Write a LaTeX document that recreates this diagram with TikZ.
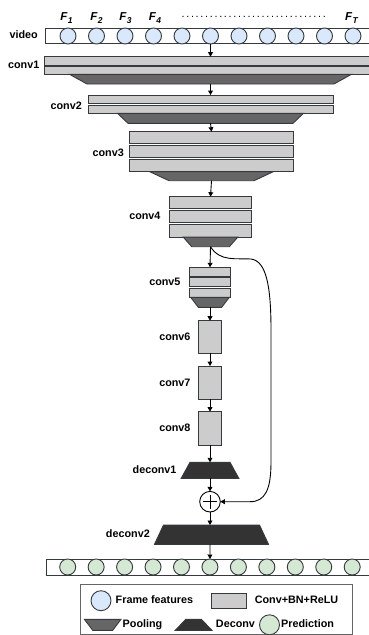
\documentclass[tikz,border=0pt]{standalone}
\usepackage{fontspec}
\setmainfont{Liberation Sans}
\usetikzlibrary{arrows.meta}
\definecolor{blueF}{HTML}{DAE8FC}
\definecolor{greenF}{HTML}{D5E8D4}
\definecolor{grayF}{HTML}{CCCCCC}
\definecolor{poolF}{HTML}{666666}
\definecolor{deconvF}{HTML}{333333}
\definecolor{strokeC}{HTML}{36393D}
\newcommand{\TrapShape}[7]{%
  \draw[trapz, fill=#7] ({#2-#5},#3) -- ({#2+#5},#3) -- ({#2+#6},#4) -- ({#2-#6},#4) -- cycle;
  \coordinate (#1-n) at (#2,#3);
  \coordinate (#1-s) at (#2,#4);}
\newcommand{\FrameLab}[1]{F\kern0.3pt\raisebox{-3pt}{\fontsize{8.5}{9}\selectfont #1}}
\begin{document}
\begin{tikzpicture}[x=1pt,y=-1pt,
  lbl/.style={font=\fontsize{10.8}{12}\selectfont\bfseries, anchor=mid east, inner sep=0},
  lt/.style={font=\fontsize{10.8}{12}\selectfont\bfseries, inner sep=0},
  flab/.style={font=\fontsize{11.5}{12}\selectfont\bfseries\itshape, inner sep=0, anchor=base},
  bar/.style={draw=strokeC, fill=grayF, line width=0.9pt, inner sep=0, outer sep=0},
  trapz/.style={draw=strokeC, line width=0.9pt},
  strip/.style={draw=strokeC, fill=white, line width=0.9pt, inner sep=0, outer sep=0},
  fcirc/.style={circle, draw=strokeC, fill=blueF, line width=0.9pt, minimum size=16pt, inner sep=0, outer sep=0},
  pcirc/.style={circle, draw=strokeC, fill=greenF, line width=0.9pt, minimum size=16pt, inner sep=0, outer sep=0},
  arr/.style={-{Triangle[length=4.5pt,width=4.8pt]}, line width=0.9pt, draw=black}]
\useasboundingbox (0,0) rectangle (368,635);

% ---------- input video ----------
\node[strip, minimum width=331pt, minimum height=15.2pt] (video) at (210.5,35.9) {};
\foreach \i in {1,...,11} {
  \node[fcirc] (v\i) at ({68+28.5*(\i-1)},36) {};
}
\node[lbl] (videol) at (38,36) {video};
\node[flab] (f1) at (66.5,20) {\FrameLab{1}};
\node[flab] (f2) at (96.5,20) {\FrameLab{2}};
\node[flab] (f3) at (125.5,20) {\FrameLab{3}};
\node[flab] (f4) at (155,20) {\FrameLab{4}};
\node[flab] (ft) at (351.5,20) {\FrameLab{T}};
\node[inner sep=0, anchor=base west, font=\fontsize{10.8}{12}\selectfont] (dots) at (180.5,17.6)
  {\makebox[146pt][l]{\xleaders\hbox to 4.6pt{\hss.\hss}\hfill}};

% ---------- conv1 ----------
\node[bar, minimum width=333pt, minimum height=8.6pt] (c1a) at (210.5,61) {};
\node[bar, minimum width=333pt, minimum height=8.3pt] (c1b) at (210.5,70.2) {};
\TrapShape{p1}{210.5}{74.3}{84}{141}{123.5}{poolF}
\node[lbl] (c1l) at (39.5,66) {conv1};

% ---------- conv2 ----------
\node[bar, minimum width=245pt, minimum height=8.3pt] (c2a) at (210.5,99.2) {};
\node[bar, minimum width=245pt, minimum height=8.3pt] (c2b) at (210.5,109.2) {};
\TrapShape{p2}{210.5}{113.3}{123.3}{93}{82.5}{poolF}
\node[lbl] (c2l) at (82,107) {conv2};

% ---------- conv3 ----------
\node[bar, minimum width=164pt, minimum height=11.8pt] (c3a) at (211.5,137.6) {};
\node[bar, minimum width=164pt, minimum height=11.8pt] (c3b) at (211.5,151.6) {};
\node[bar, minimum width=164pt, minimum height=12pt] (c3c) at (211.5,165.6) {};
\TrapShape{p3}{211.5}{171.6}{180.7}{62}{42.5}{poolF}
\node[lbl] (c3l) at (124,154) {conv3};

% ---------- conv4 ----------
\node[bar, minimum width=82.4pt, minimum height=12.2pt] (c4a) at (210.5,202.8) {};
\node[bar, minimum width=82.4pt, minimum height=11.8pt] (c4b) at (210.5,216.6) {};
\node[bar, minimum width=82.4pt, minimum height=12.6pt] (c4c) at (210.5,230.8) {};
\TrapShape{p4}{210.5}{237.1}{246.7}{27.3}{18.8}{poolF}
\node[lbl] (c4l) at (160.7,216.7) {conv4};

% ---------- conv5 ----------
\node[bar, minimum width=41.4pt, minimum height=9pt] (c5a) at (210,271.8) {};
\node[bar, minimum width=41.4pt, minimum height=9.2pt] (c5b) at (210,282.1) {};
\node[bar, minimum width=41.4pt, minimum height=9.2pt] (c5c) at (210,292.7) {};
\TrapShape{p5}{210}{297.3}{307.3}{19.3}{11.7}{poolF}
\node[lbl] (c5l) at (180.7,283) {conv5};

% ---------- conv6-8 ----------
\node[bar, minimum width=23.4pt, minimum height=32.6pt] (c6) at (210,337) {};
\node[bar, minimum width=23.4pt, minimum height=33.3pt] (c7) at (210,382.7) {};
\node[bar, minimum width=23.4pt, minimum height=33.3pt] (c8) at (210,428.3) {};
\node[lbl] (c6l) at (190.7,338) {conv6};
\node[lbl] (c7l) at (190.7,384) {conv7};
\node[lbl] (c8l) at (190.7,429) {conv8};

% ---------- deconvs ----------
\TrapShape{d1}{210}{462.3}{478.3}{20}{28.8}{deconvF}
\node[lbl] (d1l) at (176.7,471) {deconv1};
\node[circle, draw=black, fill=white, line width=0.9pt, minimum size=20.6pt, inner sep=0, outer sep=0] (plus) at (210,501.7) {};
\draw[line width=0.8pt] ([xshift=-7pt]plus.center) -- ([xshift=7pt]plus.center);
\draw[line width=0.8pt] ([yshift=-7pt]plus.center) -- ([yshift=7pt]plus.center);
\TrapShape{d2}{211.5}{525}{544.3}{48}{57}{deconvF}
\node[lbl] (d2l) at (150,535) {deconv2};

% ---------- output ----------
\node[strip, minimum width=329pt, minimum height=16pt] (out) at (210.5,567) {};
\foreach \i in {1,...,11} {
  \node[pcirc] (o\i) at ({67.7+28.45*(\i-1)},567) {};
}

% ---------- arrows ----------
\draw[arr] (v6.south) -- (c1a.north);
\draw[arr] (p1-s) -- (c2a.north);
\draw[arr] (p2-s) -- (c3a.north);
\draw[arr] (p3-s) -- (c4a.north);
\draw[arr] (p4-s) -- (c5a.north);
\draw[arr] (p5-s) -- (c6.north);
\draw[arr] (c6.south) -- (c7.north);
\draw[arr] (c7.south) -- (c8.north);
\draw[arr] (c8.south) -- (d1-n);
\draw[arr] (d1-s) -- (plus.north);
\draw[arr] (plus.south) -- (d2-n -| plus.south);
\draw[arr] (d2-s -| plus.south) -- (o6.north);
\draw[arr] (p4-s) .. controls (220,262) and (236,258) .. (251,259)
  .. controls (266,261) and (271,285) .. (271,330) -- (271,462)
  .. controls (271,490) and (265,501.7) .. (250,501.7) -- (plus.east);

% ---------- legend ----------
\node[draw=poolF, line width=0.9pt, fill=white, minimum width=272pt, minimum height=49.5pt, inner sep=0, outer sep=0] (legend) at (216,609.3) {};
\node[fcirc, minimum size=20pt] (lg1) at (101,600.7) {};
\node[lt, anchor=mid west] (lg1t) at (115.5,600.7) {Frame features};
\node[bar, minimum width=35pt, minimum height=15pt] (lg2) at (229,600.5) {};
\node[lt, anchor=mid] (lg2t) at (296.5,600.7) {Conv+BN+ReLU};
\TrapShape{lg3}{102.7}{619.3}{630.3}{18.3}{10}{poolF}
\node[lt, anchor=mid west] (lg3t) at (122.5,624.8) {Pooling};
\TrapShape{lg4}{193.6}{619.3}{630.3}{7.8}{18.3}{deconvF}
\node[lt, anchor=mid] (lg4t) at (235.5,624.8) {Deconv};
\node[pcirc, minimum size=20pt] (lg5) at (269.5,624.8) {};
\node[lt, anchor=mid west] (lg5t) at (281,624.8) {Prediction};
\end{tikzpicture}
\end{document}
